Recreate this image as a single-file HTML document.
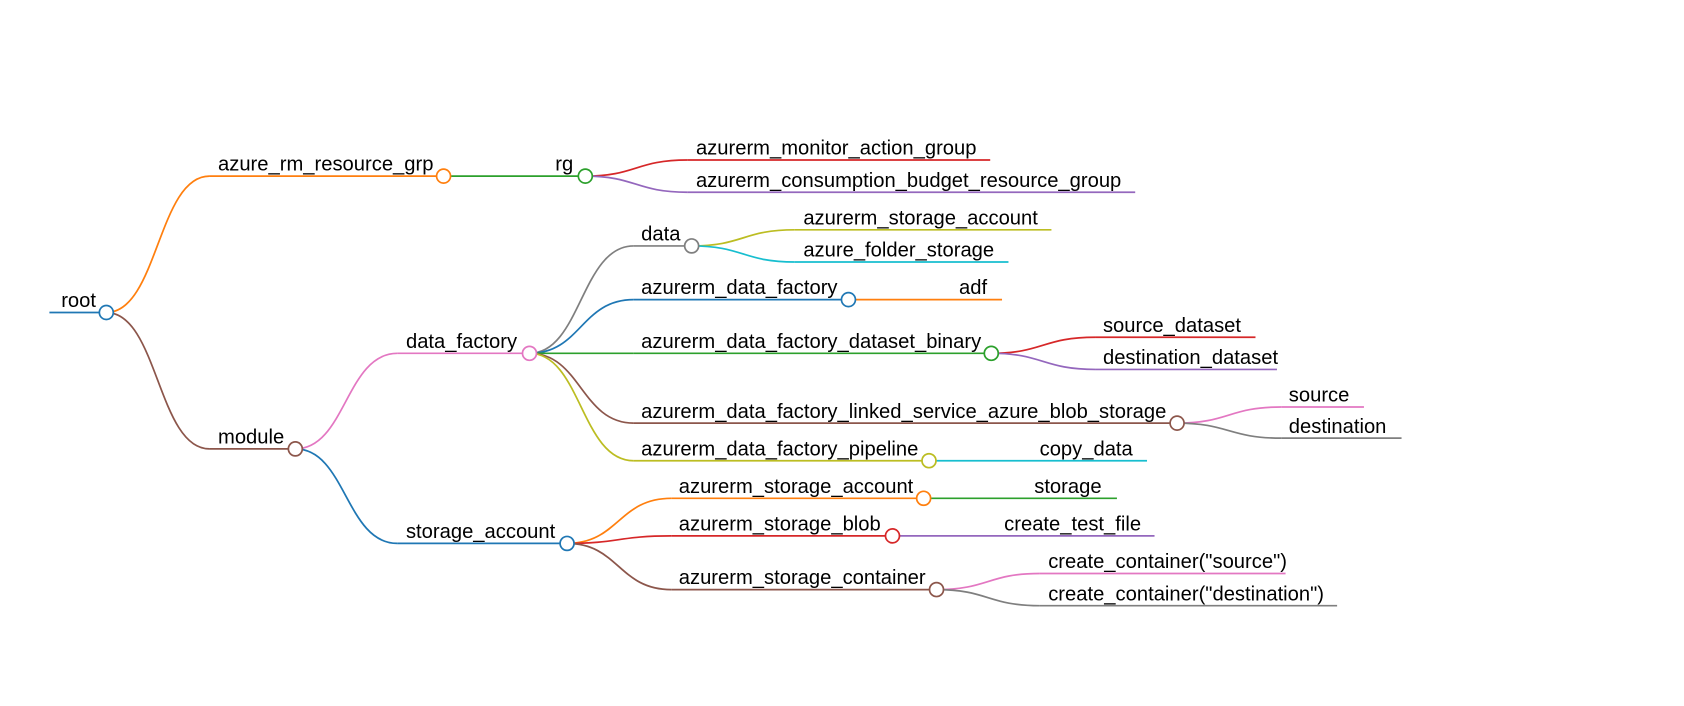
<!DOCTYPE html>
<html><head><meta charset="utf-8"><style>
html,body{margin:0;padding:0;background:#fff;width:1684px;height:706px;overflow:hidden}
svg{display:block}
text{font-family:"Liberation Sans",Arial,sans-serif;font-size:18.8px;fill:#000}
path{fill:none;stroke-width:1.6}
circle{fill:#fff;stroke-width:1.6}
</style></head><body>
<svg width="1684" height="706" viewBox="0 0 1568 657.4" preserveAspectRatio="none">
<path stroke="#ff7f0e" d="M99 291 C147 291,147 164,195 164"/>
<path stroke="#8c564b" d="M99 291 C147 291,147 418,195 418"/>
<path stroke="#2ca02c" d="M413 164 L420 164"/>
<path stroke="#d62728" d="M545 164 C592 164,592 149,640 149"/>
<path stroke="#9467bd" d="M545 164 C592 164,592 179,640 179"/>
<path stroke="#e377c2" d="M275 418 C322 418,322 329,370 329"/>
<path stroke="#1f77b4" d="M275 418 C322 418,322 506,370 506"/>
<path stroke="#7f7f7f" d="M493 329 C541 329,541 229,590 229"/>
<path stroke="#1f77b4" d="M493 329 C541 329,541 279,590 279"/>
<path stroke="#2ca02c" d="M493 329 L590 329"/>
<path stroke="#8c564b" d="M493 329 C541 329,541 394,590 394"/>
<path stroke="#bcbd22" d="M493 329 C541 329,541 429,590 429"/>
<path stroke="#bcbd22" d="M644 229 C692 229,692 214,740 214"/>
<path stroke="#17becf" d="M644 229 C692 229,692 244,740 244"/>
<path stroke="#d62728" d="M923 329 C971 329,971 314,1020 314"/>
<path stroke="#9467bd" d="M923 329 C971 329,971 344,1020 344"/>
<path stroke="#e377c2" d="M1096 394 C1144 394,1144 379,1193 379"/>
<path stroke="#7f7f7f" d="M1096 394 C1144 394,1144 408,1193 408"/>
<path stroke="#ff7f0e" d="M528 506 C576 506,576 464,625 464"/>
<path stroke="#d62728" d="M528 506 C576 506,576 499,625 499"/>
<path stroke="#8c564b" d="M528 506 C576 506,576 549,625 549"/>
<path stroke="#e377c2" d="M872 549 C920 549,920 534,968 534"/>
<path stroke="#7f7f7f" d="M872 549 C920 549,920 564,968 564"/>
<path stroke="#1f77b4" d="M46 291 H99"/>
<path stroke="#ff7f0e" d="M195 164 H413"/>
<path stroke="#2ca02c" d="M420 164 H545"/>
<path stroke="#d62728" d="M640 149 H922"/>
<path stroke="#9467bd" d="M640 179 H1057"/>
<path stroke="#8c564b" d="M195 418 H275"/>
<path stroke="#e377c2" d="M370 329 H493"/>
<path stroke="#7f7f7f" d="M590 229 H644"/>
<path stroke="#bcbd22" d="M740 214 H979"/>
<path stroke="#17becf" d="M740 244 H939"/>
<path stroke="#1f77b4" d="M590 279 H790"/>
<path stroke="#ff7f0e" d="M790 279 H933"/>
<path stroke="#2ca02c" d="M590 329 H923"/>
<path stroke="#d62728" d="M1020 314 H1169"/>
<path stroke="#9467bd" d="M1020 344 H1189"/>
<path stroke="#8c564b" d="M590 394 H1096"/>
<path stroke="#e377c2" d="M1193 379 H1270"/>
<path stroke="#7f7f7f" d="M1193 408 H1305"/>
<path stroke="#bcbd22" d="M590 429 H865"/>
<path stroke="#17becf" d="M865 429 H1068"/>
<path stroke="#1f77b4" d="M370 506 H528"/>
<path stroke="#ff7f0e" d="M625 464 H860"/>
<path stroke="#2ca02c" d="M860 464 H1040"/>
<path stroke="#d62728" d="M625 499 H831"/>
<path stroke="#9467bd" d="M831 499 H1075"/>
<path stroke="#8c564b" d="M625 549 H872"/>
<path stroke="#e377c2" d="M968 534 H1197"/>
<path stroke="#7f7f7f" d="M968 564 H1245"/>
<circle cx="99" cy="291" r="6.5" stroke="#1f77b4"/>
<circle cx="413" cy="164" r="6.5" stroke="#ff7f0e"/>
<circle cx="545" cy="164" r="6.5" stroke="#2ca02c"/>
<circle cx="275" cy="418" r="6.5" stroke="#8c564b"/>
<circle cx="493" cy="329" r="6.5" stroke="#e377c2"/>
<circle cx="644" cy="229" r="6.5" stroke="#7f7f7f"/>
<circle cx="790" cy="279" r="6.5" stroke="#1f77b4"/>
<circle cx="923" cy="329" r="6.5" stroke="#2ca02c"/>
<circle cx="1096" cy="394" r="6.5" stroke="#8c564b"/>
<circle cx="865" cy="429" r="6.5" stroke="#bcbd22"/>
<circle cx="528" cy="506" r="6.5" stroke="#1f77b4"/>
<circle cx="860" cy="464" r="6.5" stroke="#ff7f0e"/>
<circle cx="831" cy="499" r="6.5" stroke="#d62728"/>
<circle cx="872" cy="549" r="6.5" stroke="#8c564b"/>
<text x="57" y="286">root</text>
<text x="203" y="159">azure_rm_resource_grp</text>
<text x="517" y="159">rg</text>
<text x="648" y="144">azurerm_monitor_action_group</text>
<text x="648" y="174">azurerm_consumption_budget_resource_group</text>
<text x="203" y="413">module</text>
<text x="378" y="324">data_factory</text>
<text x="597" y="224">data</text>
<text x="748" y="209">azurerm_storage_account</text>
<text x="748" y="239">azure_folder_storage</text>
<text x="597" y="274">azurerm_data_factory</text>
<text x="893" y="274">adf</text>
<text x="597" y="324">azurerm_data_factory_dataset_binary</text>
<text x="1027" y="309">source_dataset</text>
<text x="1027" y="339">destination_dataset</text>
<text x="597" y="389">azurerm_data_factory_linked_service_azure_blob_storage</text>
<text x="1200" y="374">source</text>
<text x="1200" y="403">destination</text>
<text x="597" y="424">azurerm_data_factory_pipeline</text>
<text x="968" y="424">copy_data</text>
<text x="378" y="501">storage_account</text>
<text x="632" y="459">azurerm_storage_account</text>
<text x="963" y="459">storage</text>
<text x="632" y="494">azurerm_storage_blob</text>
<text x="935" y="494">create_test_file</text>
<text x="632" y="544">azurerm_storage_container</text>
<text x="976" y="529">create_container("source")</text>
<text x="976" y="559">create_container("destination")</text>
</svg>
</body></html>
